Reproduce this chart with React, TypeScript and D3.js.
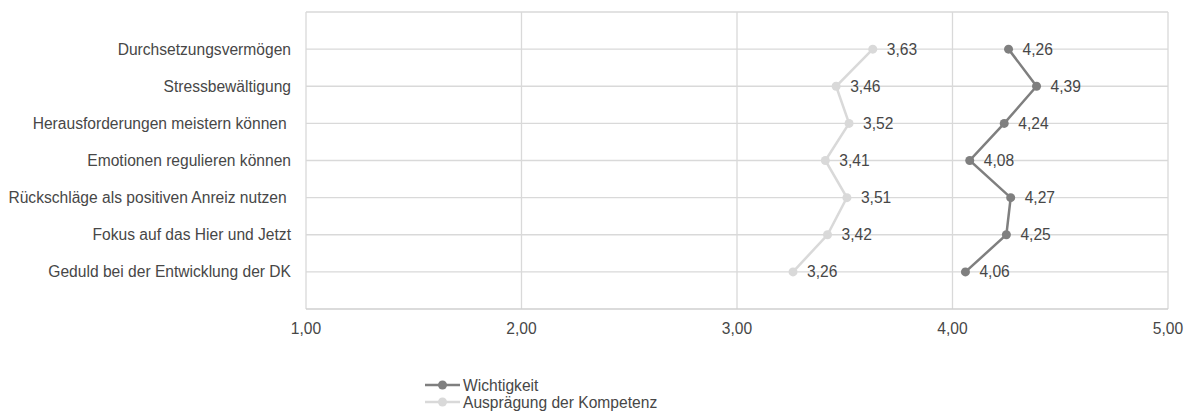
import React from "react";
import * as d3 from "d3";

// Competence items, top to bottom
const categories = [
  "Durchsetzungsvermögen",
  "Stressbewältigung",
  "Herausforderungen meistern können ",
  "Emotionen regulieren können",
  "Rückschläge als positiven Anreiz nutzen ",
  "Fokus auf das Hier und Jetzt",
  "Geduld bei der Entwicklung der DK",
];

const wichtigkeit = [4.26, 4.39, 4.24, 4.08, 4.27, 4.25, 4.06];
const auspraegung = [3.63, 3.46, 3.52, 3.41, 3.51, 3.42, 3.26];

const xTicks = [1, 2, 3, 4, 5];

const seriesNames = ["Wichtigkeit", "Ausprägung der Kompetenz"];
const seriesColors = ["#7f7f7f", "#d9d9d9"];

const W = 1190;
const H = 412;
const plot = { left: 306, right: 1168, top: 12, bottom: 309 };
const font = "'Liberation Sans', Arial, sans-serif";
const fontSize = 15.6;
const textColor = "#474747";
const gridColor = "#d9d9d9";

const fmt = (v: number) => v.toFixed(2).replace(".", ",");

export default function App() {
  const x = d3.scaleLinear().domain([1, 5]).range([plot.left, plot.right]);
  const y = d3
    .scalePoint<string>()
    .domain(categories)
    .range([plot.top, plot.bottom])
    .padding(1);

  const line = d3
    .line<number>()
    .x((d) => x(d))
    .y((_, i) => y(categories[i]) as number);

  const series = [wichtigkeit, auspraegung];

  return (
    <svg
      width={W}
      height={H}
      style={{ position: "absolute", left: 0, top: 0, background: "#fff" }}
      fontFamily={font}
    >
      {/* horizontal category grid lines */}
      {categories.map((c) => (
        <line
          key={c}
          x1={plot.left}
          x2={plot.right}
          y1={y(c)}
          y2={y(c)}
          stroke={gridColor}
          strokeWidth={1.3}
        />
      ))}
      <line x1={plot.left} x2={plot.right} y1={plot.top} y2={plot.top} stroke={gridColor} strokeWidth={1.3} />
      {/* vertical value grid lines */}
      {xTicks.map((t) => (
        <line
          key={t}
          x1={x(t)}
          x2={x(t)}
          y1={plot.top}
          y2={plot.bottom}
          stroke={gridColor}
          strokeWidth={1.3}
        />
      ))}
      <line x1={plot.left} x2={plot.right} y1={plot.bottom} y2={plot.bottom} stroke="#cfcfcf" strokeWidth={1.3} />

      {/* x tick labels */}
      {xTicks.map((t) => (
        <text
          key={t}
          x={x(t)}
          y={plot.bottom + 19}
          textAnchor="middle"
          dominantBaseline="central"
          fontSize={fontSize}
          fill={textColor}
        >
          {fmt(t)}
        </text>
      ))}

      {/* category labels */}
      {categories.map((c) => (
        <text
          key={c}
          x={plot.left - 15}
          y={y(c)}
          textAnchor="end"
          dominantBaseline="central"
          fontSize={fontSize}
          fill={textColor}
          style={{ whiteSpace: "pre" }}
        >
          {c}
        </text>
      ))}

      {/* series: light one first, dark on top */}
      {[1, 0].map((s) => (
        <g key={s}>
          <path d={line(series[s]) ?? ""} fill="none" stroke={seriesColors[s]} strokeWidth={2.5} />
          {series[s].map((v, i) => (
            <circle key={i} cx={x(v)} cy={y(categories[i])} r={4.5} fill={seriesColors[s]} />
          ))}
          {series[s].map((v, i) => (
            <text
              key={"l" + i}
              x={x(v) + 14}
              y={y(categories[i])}
              dominantBaseline="central"
              fontSize={fontSize}
              fill={textColor}
            >
              {fmt(v)}
            </text>
          ))}
        </g>
      ))}

      {/* legend */}
      {seriesNames.map((n, i) => {
        const ly = 385 + i * 17;
        return (
          <g key={n}>
            <line x1={425} x2={460} y1={ly} y2={ly} stroke={seriesColors[i]} strokeWidth={2.5} />
            <circle cx={442.5} cy={ly} r={4.5} fill={seriesColors[i]} />
            <text x={463} y={ly} dominantBaseline="central" fontSize={fontSize} fill={textColor}>
              {n}
            </text>
          </g>
        );
      })}
    </svg>
  );
}
